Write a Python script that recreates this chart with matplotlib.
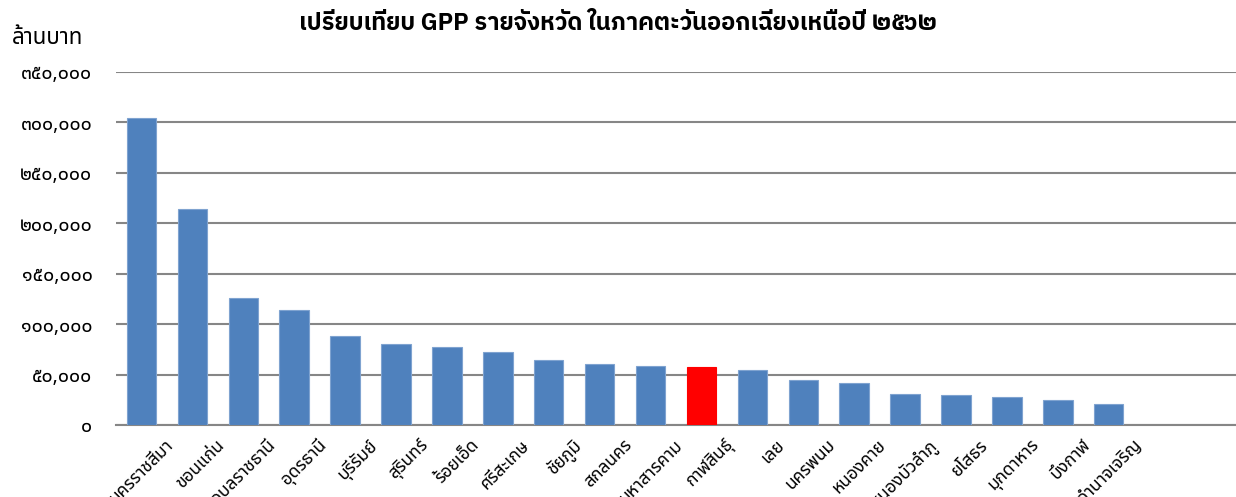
import matplotlib
matplotlib.use("Agg")
import matplotlib.pyplot as plt
import matplotlib.transforms as mtransforms
from matplotlib.ticker import FuncFormatter, MultipleLocator
import numpy as np

provinces = ["นครราชสีมา", "ขอนแก่น", "อุบลราชธานี", "อุดรธานี", "บุรีรัมย์",
             "สุรินทร์", "ร้อยเอ็ด", "ศรีสะเกษ", "ชัยภูมิ", "สกลนคร",
             "มหาสารคาม", "กาฬสินธุ์", "เลย", "นครพนม", "หนองคาย",
             "หนองบัวลำภู", "ยโสธร", "มุกดาหาร", "บึงกาฬ", "อำนาจเจริญ"]
gpp = [304000, 213900, 125800, 113600, 88600,
       80400, 77800, 72500, 64900, 60600,
       58900, 57900, 54600, 44600, 41600,
       30400, 29700, 27400, 24800, 20800]
highlight = "กาฬสินธุ์"
n_slots = 22

title = "เปรียบเทียบ GPP รายจังหวัด ในภาคตะวันออกเฉียงเหนือปี ๒๕๖๒"
ylabel = "ล้านบาท"

FONT = ["Noto Sans Thai", "Noto Sans", "DejaVu Sans"]
TITLE_FONT = ["IBM Plex Sans Thai", "Noto Sans Thai", "DejaVu Sans"]
plt.rcParams['font.family'] = FONT

THAI_DIGITS = str.maketrans("0123456789", "๐๑๒๓๔๕๖๗๘๙")

def thai_fmt(v, pos):
    return f"{int(round(v)):,}".translate(THAI_DIGITS)

fig = plt.figure(figsize=(12.36, 4.97), dpi=100)
ax = fig.add_axes([116/1236, 1-425/497, 1-116/1236, (425-72)/497])

x = np.arange(len(provinces))
colors = ["#FF0000" if p == highlight else "#4F81BD" for p in provinces]
edges = ["#FF0000" if p == highlight else "#7FA3D0" for p in provinces]
ax.bar(x, gpp, width=0.58, color=colors, edgecolor=edges, linewidth=0.8, zorder=3)

ax.set_xlim(-0.5, n_slots - 0.5)
ax.set_ylim(0, 350000)
ax.yaxis.set_major_locator(MultipleLocator(50000))
ax.yaxis.set_major_formatter(FuncFormatter(thai_fmt))
ax.grid(axis='y', color='#868686', linewidth=1.5, zorder=0)
for s in ['top', 'right', 'left']:
    ax.spines[s].set_visible(False)
ax.spines['bottom'].set_color('#868686')
ax.spines['bottom'].set_linewidth(1.5)
ax.tick_params(axis='y', length=0, pad=17, labelsize=14, labelcolor='#000000')
ax.tick_params(axis='x', length=0)

ax.set_xticks(x)
ax.set_xticklabels(provinces, rotation=45, ha='right', va='top',
                   rotation_mode='anchor', fontsize=12.5)
offset = mtransforms.ScaledTranslation(23/100, -6/100, fig.dpi_scale_trans)
for lab in ax.get_xticklabels():
    lab.set_transform(lab.get_transform() + offset)

fig.text(618/1236, 1-23/497, title, ha='center', va='center',
         fontsize=17, fontweight='bold', family=TITLE_FONT)
fig.text(12/1236, 1-38/497, ylabel, ha='left', va='center', fontsize=16)

fig.savefig("out.png", dpi=100)
